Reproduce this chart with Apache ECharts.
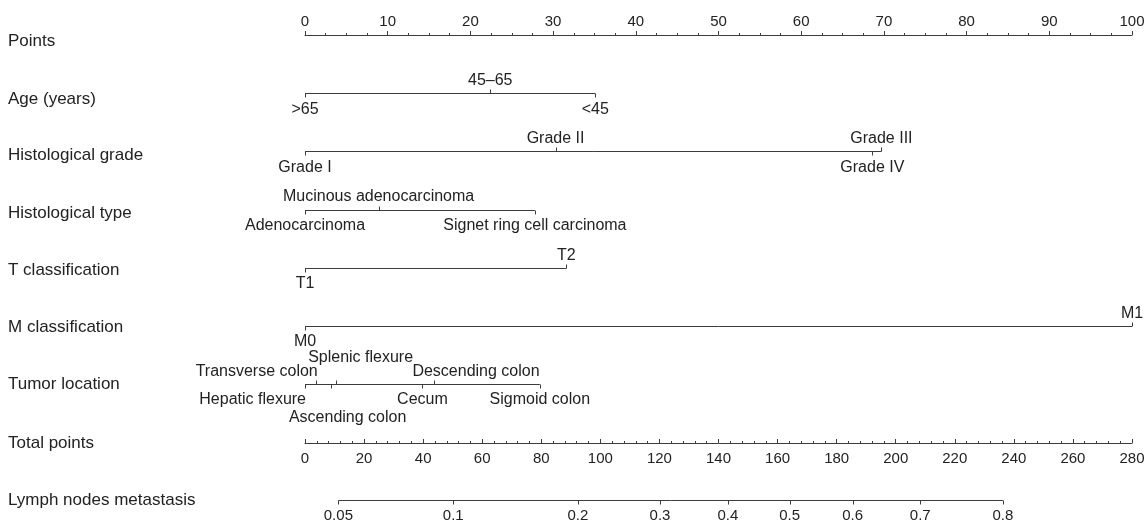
<!DOCTYPE html>
<html><head><meta charset="utf-8">
<script src="https://cdn.jsdelivr.net/npm/echarts@6/dist/echarts.min.js"></script>
<style>html,body{margin:0;padding:0;background:#fff}#c{width:1146px;height:523px}</style>
</head><body><div id="c"></div>
<script>
// ---------- DATA ----------
const rowNames = ['Points','Age (years)','Histological grade','Histological type','T classification','M classification','Tumor location'];
const bottomRowNames = ['Total points','Lymph nodes metastasis'];

const pointsMin = 0, pointsMax = 100, pointsStep = 10;
const totalMin = 0, totalMax = 280, totalStep = 20;

const ageLevels = ['>65','45–65','<45'];
const agePoints = [0, 22.4, 35.1];
const gradeLevels = ['Grade I','Grade II','Grade III','Grade IV'];
const gradePoints = [0, 30.3, 69.7, 68.6];
const typeLevels = ['Adenocarcinoma','Mucinous adenocarcinoma','Signet ring cell carcinoma'];
const typePoints = [0, 8.9, 27.8];
const tLevels = ['T1','T2'];
const tPoints = [0, 31.6];
const mLevels = ['M0','M1'];
const mPoints = [0, 100];
const locationLevels = ['Hepatic flexure','Transverse colon','Ascending colon','Splenic flexure','Cecum','Descending colon','Sigmoid colon'];
const locationPoints = [0, 1.3, 3.1, 3.7, 14.2, 15.6, 28.4];

const lymphLabels = ['0.05','0.1','0.2','0.3','0.4','0.5','0.6','0.7','0.8'];
const lymphTotalPoints = [11.3, 50.2, 92.4, 120.2, 143.2, 164.1, 185.4, 208.3, 236.3];

// ---------- LAYOUT / STYLE ----------
const FONT = '"Liberation Sans", Arial, Helvetica, sans-serif';
const TXT = '#222';
const LINE = '#3c3c3c';
const D = {side:'down', level:1, align:'center', dx:0};
const U = {side:'up', level:1, align:'center', dx:0};
const agePlace = [D, U, D];
const gradePlace = [D, U, U, D];
const typePlace = [D, U, D];
const tPlace = [D, U];
const mPlace = [D, U];
const locationPlace = [
  {side:'down', level:1, align:'right', dx:1},
  {side:'up', level:1, align:'right', dx:2},
  {side:'down', level:2, align:'center', dx:17},
  {side:'up', level:2, align:'center', dx:25},
  D,
  {side:'up', level:1, align:'center', dx:42},
  D
];
const labelPad = [12, 12, 8, 7, 5, 3, 0];

const catRows = [
  {row:1, levels:ageLevels, pts:agePoints, place:agePlace},
  {row:2, levels:gradeLevels, pts:gradePoints, place:gradePlace},
  {row:3, levels:typeLevels, pts:typePoints, place:typePlace},
  {row:4, levels:tLevels, pts:tPoints, place:tPlace},
  {row:5, levels:mLevels, pts:mPoints, place:mPlace},
  {row:6, levels:locationLevels, pts:locationPoints, place:locationPlace}
];
const catItems = [];
catRows.forEach(r => r.levels.forEach((name, i) => catItems.push({row:r.row, name, pts:r.pts[i], place:r.place[i]})));
const rowExtents = catRows.map(r => [Math.min(...r.pts), Math.max(...r.pts), r.row]);

const richLeft = {};
labelPad.forEach((p, i) => { richLeft['r' + i] = {padding:[p,0,0,0], fontSize:17, color:TXT, fontFamily:FONT}; });

const chart = echarts.init(document.getElementById('c'), null, {renderer:'canvas'});

function crisp(v){ return Math.round(v) + 0.5; }

const axisCommon = {
  type:'value',
  axisLine:{show:true, onZero:false, lineStyle:{color:LINE, width:1}},
  axisTick:{show:true, length:4, lineStyle:{color:LINE, width:1}},
  splitLine:{show:false},
  axisLabel:{fontSize:15, color:TXT, fontFamily:FONT, showMinLabel:true, showMaxLabel:true}
};

chart.setOption({
  animation:false,
  backgroundColor:'#fff',
  grid:[
    {left:305, right:14, top:35, bottom:139, containLabel:false, outerBoundsMode:'none'},
    {left:305, right:14, top:443, bottom:23, containLabel:false, outerBoundsMode:'none'}
  ],
  xAxis:[
    Object.assign({}, axisCommon, {gridIndex:0, position:'top', min:pointsMin, max:pointsMax, interval:pointsStep,
      minorTick:{show:true, splitNumber:4, length:2, lineStyle:{color:LINE, width:1}},
      axisLabel:Object.assign({}, axisCommon.axisLabel, {margin:6})}),
    Object.assign({}, axisCommon, {gridIndex:1, position:'top', min:totalMin, max:totalMax, interval:totalStep,
      minorTick:{show:true, splitNumber:5, length:2, lineStyle:{color:LINE, width:1}},
      axisLabel:Object.assign({}, axisCommon.axisLabel, {inside:true, margin:8})})
  ],
  yAxis:[
    {gridIndex:0, type:'category', data:rowNames, inverse:true, boundaryGap:false,
      axisLine:{show:false}, axisTick:{show:false}, splitLine:{show:false},
      axisLabel:{align:'left', margin:297, fontSize:17, color:TXT, fontFamily:FONT, interval:0,
        formatter:(v, i) => '{r' + i + '|' + v + '}', rich:richLeft}},
    {gridIndex:1, type:'category', data:bottomRowNames, inverse:true, boundaryGap:false,
      axisLine:{show:false}, axisTick:{show:false}, splitLine:{show:false},
      axisLabel:{align:'left', margin:297, fontSize:17, color:TXT, fontFamily:FONT, interval:0}}
  ],
  series:[
    {
      type:'custom', xAxisIndex:0, yAxisIndex:0, silent:true,
      data:rowExtents,
      renderItem:(params, api) => {
        const a = api.coord([api.value(0), api.value(2)]);
        const b = api.coord([api.value(1), api.value(2)]);
        const y = crisp(a[1]);
        return {type:'line', shape:{x1:a[0], y1:y, x2:b[0], y2:y}, style:{stroke:LINE, lineWidth:1}};
      }
    },
    {
      type:'custom', xAxisIndex:0, yAxisIndex:0, silent:true,
      data:catItems.map(it => [it.pts, it.row]),
      renderItem:(params, api) => {
        const it = catItems[params.dataIndex];
        const p = api.coord([api.value(0), api.value(1)]);
        const y = crisp(p[1]);
        const x = crisp(p[0]);
        const up = it.place.side === 'up';
        const dir = up ? -1 : 1;
        const off = up ? (it.place.level === 2 ? -26 : -12.5) : (it.place.level === 2 ? 34 : 16);
        return {type:'group', children:[
          {type:'line', shape:{x1:x, y1:y, x2:x, y2:y + dir*4}, style:{stroke:LINE, lineWidth:1}},
          {type:'text', x:p[0] + it.place.dx, y:p[1] + off,
            style:{text:it.name, align:it.place.align, verticalAlign:'middle', textAlign:it.place.align, textVerticalAlign:'middle',
              fill:TXT, fontSize:16, fontFamily:FONT}}
        ]};
      }
    },
    {
      type:'custom', xAxisIndex:1, yAxisIndex:1, silent:true,
      data:[[lymphTotalPoints[0], lymphTotalPoints[lymphTotalPoints.length-1], 1]],
      renderItem:(params, api) => {
        const a = api.coord([api.value(0), api.value(2)]);
        const b = api.coord([api.value(1), api.value(2)]);
        const y = crisp(a[1]);
        return {type:'line', shape:{x1:a[0], y1:y, x2:b[0], y2:y}, style:{stroke:LINE, lineWidth:1}};
      }
    },
    {
      type:'custom', xAxisIndex:1, yAxisIndex:1, silent:true,
      data:lymphTotalPoints.map(v => [v, 1]),
      renderItem:(params, api) => {
        const p = api.coord([api.value(0), api.value(1)]);
        const y = crisp(p[1]);
        const x = crisp(p[0]);
        return {type:'group', children:[
          {type:'line', shape:{x1:x, y1:y, x2:x, y2:y + 4}, style:{stroke:LINE, lineWidth:1}},
          {type:'text', x:p[0], y:p[1] + 16,
            style:{text:lymphLabels[params.dataIndex], align:'center', verticalAlign:'middle', textAlign:'center', textVerticalAlign:'middle',
              fill:TXT, fontSize:15, fontFamily:FONT}}
        ]};
      }
    }
  ]
});
</script>
</body></html>
